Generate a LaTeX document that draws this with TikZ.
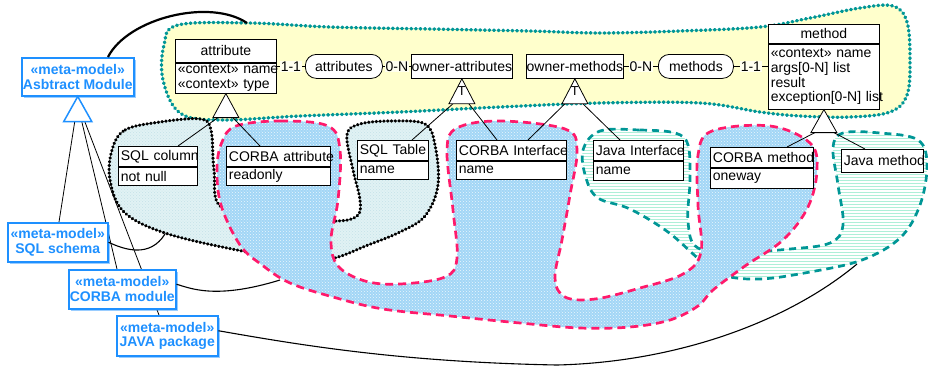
\documentclass[tikz,border=0pt]{standalone}
\usepackage{fontspec}
\setmainfont{Liberation Sans}
\usetikzlibrary{patterns,shadows,calc}
\definecolor{mmblue}{HTML}{1E90FF}
\definecolor{tealc}{HTML}{009696}
\definecolor{yfill}{HTML}{FFFFCC}
\definecolor{lblbg}{HTML}{FFFFF0}
\definecolor{pinkc}{HTML}{FF1A6B}
\definecolor{pinkfill}{HTML}{A2D6F6}
\definecolor{pinkdot}{HTML}{EAF6FD}
\definecolor{sqlfill}{HTML}{E1F2F4}
\definecolor{sqldot}{HTML}{C4E2E8}
\definecolor{javaline}{HTML}{AEEFD8}
\newcommand\mfs{\fontsize{14}{14.6}\selectfont}
\begin{document}
\begin{tikzpicture}[x=1pt,y=-1pt,
  cbox/.style={draw=black, line width=0.8pt, fill=white, anchor=north west, inner ysep=0pt, inner xsep=2.5pt, font=\mfs, align=left},
  chdr/.style={draw=black, line width=0.8pt, fill=white, anchor=north west, inner sep=0pt, font=\mfs},
  pill/.style={draw=black, line width=0.8pt, fill=white, anchor=north west, inner sep=0pt, rounded corners=11pt, font=\mfs, minimum height=24pt},
  lbl/.style={fill=lblbg, inner sep=0.6pt, font=\mfs},
  conn/.style={draw=black, line width=0.8pt},
  gtri/.style={draw=black, line width=0.8pt, fill=white},
  meta/.style={draw=mmblue, line width=1.5pt, fill=white, text=mmblue, font=\mfs\bfseries, align=center, anchor=north west, inner sep=1pt, drop shadow={shadow xshift=2pt, shadow yshift=-2pt, fill=mmblue, opacity=0.45}},
  mtri/.style={draw=mmblue, line width=1.5pt, fill=white},
  link/.style={draw=black, line width=1.1pt},
  yblob/.style={fill=yfill, draw=tealc, line width=3.4pt, dash pattern=on 0.8pt off 3.8pt, line cap=round},
  sqlblob/.style={preaction={fill=sqlfill}, pattern=crosshatch dots, pattern color=sqldot, draw=black, line width=3.1pt, dash pattern=on 0.6pt off 3.2pt, line cap=round},
  corbablob/.style={preaction={fill=pinkfill}, pattern=crosshatch dots, pattern color=pinkdot, draw=pinkc, line width=2.7pt, dash pattern=on 8pt off 5pt},
  javaedge/.style={draw=tealc, line width=2.7pt, dash pattern=on 7pt off 5pt},
  hatch/.style={draw=javaline, line width=0.8pt},
  tmark/.style={font=\fontsize{13}{13}\selectfont, inner sep=0pt}
]
\useasboundingbox (0,0) rectangle (928,368);

% ---- regions ----
\path[yblob] plot[smooth cycle, tension=0.6] coordinates {(178,25) (250,23) (330,27) (430,29) (530,31) (600,33) (680,31) (760,27) (810,18) (860,8) (893,6) (907,22) (910,60) (907,95) (890,112) (850,117) (800,116) (760,112) (700,103) (600,103) (500,107) (400,112) (300,116) (220,120) (180,113) (163,80) (164,45)};

\path[sqlblob] plot[smooth cycle, tension=0.6] coordinates {(112,150) (125,130) (160,122) (200,119) (211,130) (214,170) (222,208) (280,218) (335,221) (357,216) (360,200) (353,170) (347,135) (360,124) (392,121) (425,124) (435,145) (438,185) (425,216) (400,232) (368,245) (330,259) (290,258) (237,250) (165,233) (124,212) (110,180)};

\begin{scope}
\clip plot[smooth cycle, tension=0.6] coordinates {(600,131) (640,130) (675,133) (688,145) (690,180) (688,222) (698,248) (740,252) (790,249) (830,243) (843,225) (838,185) (833,148) (843,133) (880,133) (918,140) (927,165) (920,205) (900,238) (862,260) (810,272) (760,279) (722,275) (700,260) (668,232) (630,209) (598,198) (586,178) (583,150)};
\foreach \hy in {126,129,...,285} \draw[hatch] (575,\hy) -- (935,\hy);
\end{scope}
\path[javaedge] plot[smooth cycle, tension=0.6] coordinates {(600,131) (640,130) (675,133) (688,145) (690,180) (688,222) (698,248) (740,252) (790,249) (830,243) (843,225) (838,185) (833,148) (843,133) (880,133) (918,140) (927,165) (920,205) (900,238) (862,260) (810,272) (760,279) (722,275) (700,260) (668,232) (630,209) (598,198) (586,178) (583,150)};

\path[corbablob] plot[smooth cycle, tension=0.6] coordinates {(236,126) (280,121) (328,126) (340,150) (338,200) (331,240) (338,266) (365,281) (400,284) (445,277) (457,258) (453,210) (447,150) (457,128) (500,121) (565,129) (577,150) (570,195) (562,240) (555,278) (565,297) (595,299) (640,288) (683,274) (701,252) (698,205) (698,155) (712,131) (770,126) (810,143) (817,170) (808,207) (783,240) (745,266) (713,290) (698,306) (670,320) (630,327) (580,328) (520,323) (450,316) (383,309) (333,297) (290,283) (262,265) (240,245) (221,205) (217,168) (222,142)};

% ---- free ends on region borders ----
\coordinate (yb) at (247,23);
\coordinate (sqlend) at (165,234);
\coordinate (corend) at (280,280);
\coordinate (javend) at (857,264);

% ---- model classes ----
\node[chdr, minimum width=101pt, minimum height=23pt] (attrH) at (175,39) {attribute};
\node[cbox, text width=96pt, minimum height=30pt] (attrB) at (attrH.south west) {\mbox{«context» name}\\\mbox{«context» type}};
\node[pill, minimum width=77pt] (attrs) at (305,54) {attributes};
\node[chdr, minimum width=101pt, minimum height=24pt] (oattr) at (411,54) {owner-attributes};
\node[chdr, minimum width=97pt, minimum height=24pt] (ometh) at (526,54) {owner-methods};
\node[pill, minimum width=75pt] (meths) at (658,54) {methods};
\node[chdr, minimum width=111pt, minimum height=19pt] (methH) at (768,24) {method};
\node[cbox, text width=106pt, minimum height=65pt] (methB) at (methH.south west) {\mbox{«context» name}\\\mbox{args[0-N] list}\\result\\\mbox{exception[0-N] list}};

\draw[conn] (attrs.west -| attrB.east) -- node[lbl]{1-1} (attrs.west);
\draw[conn] (attrs.east) -- node[lbl]{0-N} (oattr.west);
\draw[conn] (ometh.east) -- node[lbl]{0-N} (meths.west);
\draw[conn] (meths.east) -- node[lbl]{1-1} (meths.east -| methB.west);

% ---- specialised classes ----
\node[cbox, text width=74pt, minimum height=20pt] (sqlcH) at (118,146) {\mbox{SQL column}};
\node[cbox, text width=74pt, minimum height=18pt] (sqlcB) at (sqlcH.south west) {not null};
\node[cbox, text width=99pt, minimum height=20pt] (cattrH) at (226,146) {\mbox{CORBA attribute}};
\node[cbox, text width=99pt, minimum height=18pt] (cattrB) at (cattrH.south west) {readonly};
\node[cbox, text width=66pt, minimum height=20pt] (sqltH) at (357,140) {\mbox{SQL Table}};
\node[cbox, text width=66pt, minimum height=18pt] (sqltB) at (sqltH.south west) {name};
\node[cbox, text width=105pt, minimum height=20pt] (ciH) at (456,140) {\mbox{CORBA Interface}};
\node[cbox, text width=105pt, minimum height=18pt] (ciB) at (ciH.south west) {name};
\node[cbox, text width=85pt, minimum height=20pt] (jiH) at (593,140) {\mbox{Java Interface}};
\node[cbox, text width=85pt, minimum height=19pt] (jiB) at (jiH.south west) {name};
\node[cbox, text width=98pt, minimum height=20pt] (cmH) at (710,147) {\mbox{CORBA method}};
\node[cbox, text width=98pt, minimum height=20pt] (cmB) at (cmH.south west) {oneway};
\node[cbox, text width=77pt, minimum height=23pt] (jm) at (841,149) {\mbox{Java method}};

% ---- generalisations ----
\coordinate (ta1) at ($(attrB.south)+(-8,24)$);
\coordinate (ta2) at ($(attrB.south)+(7,24)$);
\draw[conn] (ta1) -- ($(sqlcH.north west)+(60,0)$);
\draw[conn] (ta2) -- ($(cattrH.north west)+(34,0)$);
\draw[gtri] (attrB.south) -- ++(-13,24) -- ++(26,0) -- cycle;

\coordinate (tb1) at ($(oattr.south)+(-9,25)$);
\coordinate (tb2) at ($(oattr.south)+(7,25)$);
\draw[conn] (tb1) -- ($(sqltH.north west)+(55,0)$);
\draw[conn] (tb2) -- ($(ciH.north west)+(41,0)$);
\draw[gtri] (oattr.south) -- ++(-13,25) -- ++(26,0) -- cycle;
\node[tmark] (tT1) at ($(oattr.south)+(0,12)$) {T};

\coordinate (tc1) at ($(ometh.south)+(-10,25)$);
\coordinate (tc2) at ($(ometh.south)+(8,25)$);
\draw[conn] (tc1) -- ($(ciH.north west)+(72,0)$);
\draw[conn] (tc2) -- ($(jiH.north west)+(27,0)$);
\draw[gtri] (ometh.south) -- ++(-13,25) -- ++(26,0) -- cycle;
\node[tmark] (tT2) at ($(ometh.south)+(0,12)$) {T};

\coordinate (td1) at ($(methB.south)+(-9,23)$);
\coordinate (td2) at ($(methB.south)+(10,23)$);
\draw[conn] (td1) -- ($(cmH.north west)+(77,0)$);
\draw[conn] (td2) -- ($(jm.north west)+(24,0)$);
\draw[gtri] (methB.south) -- ++(-13,23) -- ++(26,0) -- cycle;

% ---- meta-models ----
\node[meta, minimum width=112pt, minimum height=38pt] (abs) at (21,57) {«meta-model»\\Asbtract Module};
\coordinate (m1) at ($(abs.south)+(-3,25)$);
\coordinate (m2) at ($(abs.south)+(4,25)$);
\coordinate (m3) at ($(abs.south)+(7,25)$);
\coordinate (sqlsTop) at (59,222);
\coordinate (cormTop) at (117,269);
\coordinate (javpTop) at (159,315);
\draw[conn] (m1) -- (sqlsTop);
\draw[conn] (m2) -- (cormTop);
\draw[conn] (m3) -- (javpTop);
\draw[link, line width=2.2pt] ($(abs.north west)+(87,0)$) .. controls (128,18) and (210,-2) .. (yb);
\node[meta, minimum width=100pt, minimum height=39pt] (sqls) at (7,222) {«meta-model»\\SQL schema};
\node[meta, minimum width=107pt, minimum height=39pt] (corm) at (68,269) {«meta-model»\\CORBA module};
\node[meta, minimum width=101pt, minimum height=40pt] (javp) at (116,315) {«meta-model»\\JAVA package};
\draw[mtri] (abs.south) -- ++(-14,25) -- ++(28,0) -- cycle;

\draw[link] (sqls.east) .. controls (125,250) and (150,258) .. (sqlend);
\draw[link] ($(corm.east)+(0,-5)$) .. controls (190,288) and (215,300) .. (corend);
\draw[link] ($(javp.east)+(0,-5)$) .. controls (300,345) and (400,362) .. (557,365) .. controls (680,362) and (790,320) .. (javend);
\end{tikzpicture}
\end{document}
